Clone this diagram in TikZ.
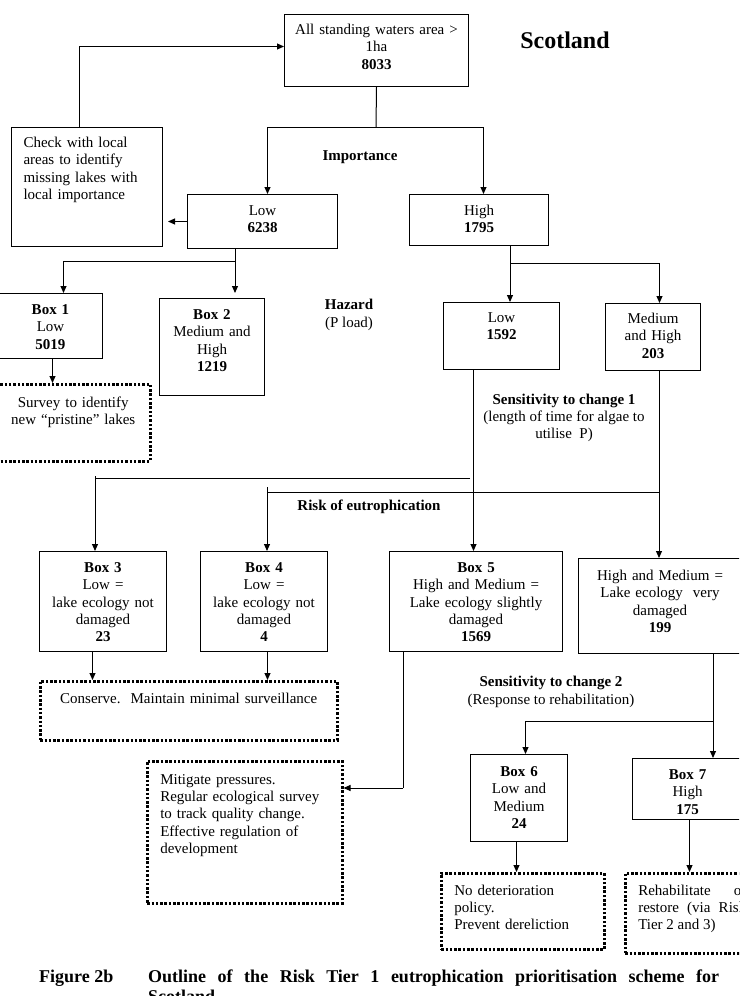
\documentclass[tikz,border=0pt]{standalone}
\usepackage{fontspec}
\setmainfont{Liberation Serif}
\usetikzlibrary{arrows.meta}
\newcommand\bodyfont{\fontsize{15}{17.3}\selectfont}
\newcommand\capfont{\bfseries\fontsize{18}{20.7}\selectfont}
\hyphenpenalty=10000 \tolerance=10000 \hbadness=10000

\begin{document}
\begin{tikzpicture}[x=1pt,y=-1pt,>={Triangle[length=7pt,width=6pt]},
    box/.style={draw,line width=1pt,anchor=north west,inner xsep=3pt,inner ysep=0pt,align=center,font=\bodyfont},
    dotbox/.style={box,line width=2.5pt,dash pattern=on 2.5pt off 1.8pt,inner xsep=13pt,align=left},
    sz/.style n args={3}{text width=#1pt,text height=#2pt,text depth=#3pt},
    lbl/.style={align=center,font=\bodyfont},
    line/.style={line width=1pt}]
\useasboundingbox (0,0) rectangle (739,996);
\clip (0,0) rectangle (739,996);

% boxes
\path
(284,14) node[box,sz={178}{20}{52}] (all) {All standing waters area >\\1ha\\\textbf{8033}}
(11,127) node[box,sz={127}{20}{99},inner xsep=12pt,align=left] (check) {Check with local\\areas to identify\\missing lakes with\\local importance}
(187,194) node[box,sz={144}{21}{33}] (implow) {Low\\\textbf{6238}}
(409,194) node[box,sz={133}{21}{30}] (imphigh) {High\\\textbf{1795}}
(-2,293) node[box,sz={98}{21}{44}] (box1) {\textbf{Box 1}\\Low\\\textbf{5019}}
(159,298) node[box,sz={99}{21}{76}] (box2) {\textbf{Box 2}\\Medium and\\High\\\textbf{1219}}
(443,302) node[box,sz={110}{20}{47}] (hazlow) {Low\\\textbf{1592}}
(605,303) node[box,sz={89}{20}{47}] (hazhigh) {Medium\\and High\\\textbf{203}}
(-5,383) node[dotbox,align=center,inner xsep=3pt,sz={148}{23}{54}] (survey) {Survey to identify\\new “pristine” lakes}
(39,551) node[box,sz={121}{21}{79}] (box3) {\textbf{Box 3}\\Low =\\lake ecology not\\damaged\\\textbf{23}}
(200,551) node[box,sz={121}{21}{79}] (box4) {\textbf{Box 4}\\Low =\\lake ecology not\\damaged\\\textbf{4}}
(389,551) node[box,sz={167}{21}{79}] (box5) {\textbf{Box 5}\\High and Medium =\\Lake ecology slightly\\damaged\\\textbf{1569}}
(578,558) node[box,sz={157}{22}{73}] (verydam) {High and Medium =\\Lake ecology\ \ very\\damaged\\\textbf{199}}
(39,680) node[dotbox,align=center,inner xsep=3pt,sz={291}{22}{37}] (conserve) {Conserve.\ \ Maintain minimal surveillance}
(146,760) node[dotbox,sz={169}{23}{119}] (mitigate) {Mitigate pressures.\\Regular ecological survey\\to track quality change.\\Effective regulation of\\development}
(470,754) node[box,sz={91}{22}{65}] (box6) {\textbf{Box 6}\\Low and\\Medium\\\textbf{24}}
(632,758) node[box,sz={104}{21}{40}] (box7) {\textbf{Box 7}\\High\\\textbf{175}}
(440,872) node[dotbox,sz={137}{22}{54}] (nodet) {No deterioration\\policy.\\Prevent dereliction}
(624,872) node[dotbox,align=justify,sz={108}{22}{58}] (rehab) {Rehabilitate or restore (via Risk Tier 2 and 3)};

% headings
\path
(565,40) node[font=\bfseries\fontsize{24}{28}\selectfont] (title) {Scotland}
(360,157) node[lbl,font=\bodyfont\bfseries] (importance) {Importance}
(349,315) node[lbl] (hazard) {\textbf{Hazard}\\(P load)}
(564,418) node[lbl] (sens1) {\textbf{Sensitivity to change 1}\\(length of time for algae to\\utilise\ \ P)}
(369,507) node[lbl,font=\bodyfont\bfseries] (risk) {Risk of eutrophication}
(551,692) node[lbl] (sens2) {\textbf{Sensitivity to change 2}\\(Response to rehabilitation)}
(39,982) node[anchor=base west,font=\capfont,inner sep=0pt] (fig) {Figure 2b}
(148,982) node[anchor=base west,font=\capfont,inner sep=0pt,text width=571pt,align=justify] (caption) {Outline of the Risk Tier 1 eutrophication prioritisation scheme for\linebreak Scotland};

% importance
\coordinate (impsplit) at (376,127);
\draw[line] (all.south) -- (impsplit);
\draw[line,->] (impsplit) -| ([xshift=5pt]implow.north);
\draw[line,->] (impsplit) -| ([xshift=4.5pt]imphigh.north);
\draw[line,->] ([xshift=-7.5pt]check.north) |- ([yshift=4pt]all.west);
\draw[line,->] (implow.west) -- ([xshift=5pt]implow.west -| check.east);

% hazard
\coordinate (lowsplit) at (235,261);
\draw[line] (lowsplit |- implow.south) -- (lowsplit);
\draw[line,->] (lowsplit) -| ([xshift=13pt]box1.north);
\draw[line,->] (lowsplit) -- ([yshift=5pt]lowsplit |- box2.north);
\draw[line,->] ([xshift=2pt]box1.south) -- ([xshift=2pt]box1.south |- survey.north);
\coordinate (highsplit) at (510,263);
\draw[line] (highsplit |- imphigh.south) -- (highsplit);
\draw[line,->] (highsplit) -- (highsplit |- hazlow.north);
\draw[line,->] (highsplit) -| ([xshift=6.5pt]hazhigh.north);

% risk of eutrophication
\draw[line,->] ([xshift=-28pt]hazlow.south) -- ([xshift=-2.5pt]box5.north);
\coordinate (risklow) at (470,478);
\coordinate (lowturn) at (95,478);
\draw[line] (risklow) -- (lowturn);
\draw[line,->] ([yshift=2pt]lowturn) -- (lowturn |- box3.north);
\coordinate (riskhigh) at (659,492);
\coordinate (highturn) at (267,492);
\draw[line] (riskhigh) -- (highturn);
\draw[line,->] ([yshift=5pt]highturn) -- (highturn |- box4.north);
\draw[line,->] (riskhigh |- hazhigh.south) -- (riskhigh |- verydam.north);
\draw[line,->] ([xshift=-10.5pt]box3.south) -- ([xshift=-10.5pt]box3.south |- conserve.north);
\draw[line,->] ([xshift=3.5pt]box4.south) -- ([xshift=3.5pt]box4.south |- conserve.north);
\coordinate (mitbend) at (403,788);
\draw[line] (mitbend |- box5.south) -- (mitbend);
\draw[line,->] (mitbend) -- (mitbend -| mitigate.east);

% rehabilitation
\coordinate (sens2split) at (713,721);
\draw[line,->] (sens2split |- verydam.south) -- (sens2split |- box7.north);
\draw[line,->] (sens2split) -| ([xshift=6.5pt]box6.north);
\draw[line,->] ([xshift=-2.5pt]box6.south) -- ([xshift=-2.5pt]box6.south |- nodet.north);
\draw[line,->] ([xshift=2pt]box7.south) -- ([xshift=2pt]box7.south |- rehab.north);
\end{tikzpicture}
\end{document}
